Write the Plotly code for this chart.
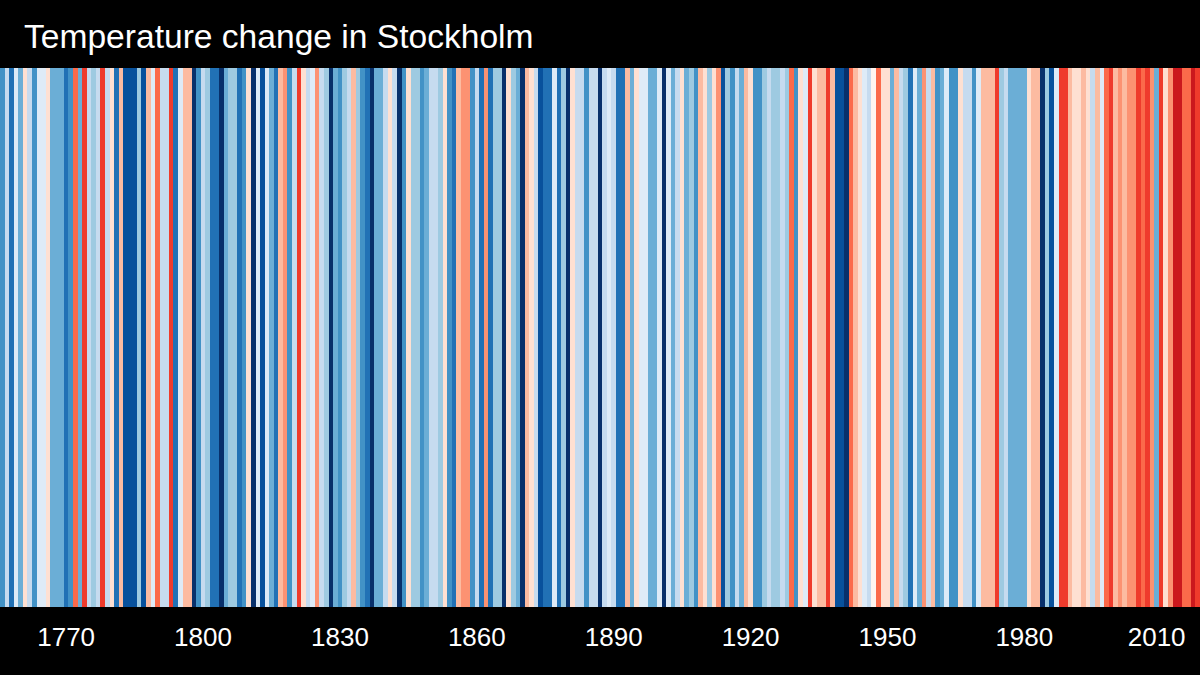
import plotly.graph_objects as go

first_year = 1756
# Warming-stripe class: negative = blue classes, positive = red classes
levels = [
 -5,-2,-6,-1,-4,2,-2,-5,-1,-1,2,-4,-4,-4,-6,-5,5,-4,6,-2,-3,-2,6,-2,2,-6,3,-7,-7,-7,-3,-7,3,-1,5,-2,-2,6,-6,-1,3,3,-8,
 -5,-2,-3,-6,-6,-8,-4,-3,-3,-6,-5,2,-8,-1,-7,-1,-4,-6,3,4,-5,-2,6,2,-2,-1,4,-2,-3,-8,-4,-5,-3,-2,3,-3,-5,-6,-8,-4,-4,-2,2,-2,
 -8,-5,2,-3,-3,-5,-4,-2,-2,-3,2,-5,-6,3,4,4,-5,-2,-6,4,-6,-3,-3,-8,2,-3,-4,-8,3,2,-2,-7,-6,-6,-1,-6,-3,-8,2,-2,-2,-5,-2,-2,
 -8,-2,-1,-2,-6,-6,3,-4,2,-1,-1,-4,-4,-1,-8,-1,-4,-2,2,-4,-3,-5,3,2,-3,2,4,-7,-3,-5,-2,-4,3,2,-5,-5,-3,-2,-3,-3,-2,-3,5,-5,
 2,-1,6,2,3,3,6,3,-7,-7,-8,5,3,2,-1,-2,1,5,2,2,-4,3,-2,-3,-6,-1,-4,4,-2,3,-5,-4,-1,-5,-5,2,-2,-2,-5,-1,3,3,3,6,
 -3,-2,-4,-4,-4,-4,2,3,3,-8,-3,-7,-1,6,6,3,2,2,3,2,-2,3,-1,5,6,3,4,3,4,4,6,5,6,4,-4,6,2,4,7,7,5,5,7,6,
]
years = list(range(first_year, first_year + len(levels)))

blues = ["#deebf7","#c6dbef","#9ecae1","#6baed6","#4292c6","#2171b5","#08519c","#08306b"]
reds = ["#fff5f0","#fee0d2","#fcbba1","#fc9272","#fb6a4a","#ef3b2c","#cb181d","#a50f15"]
palette = blues[::-1] + ["#ffffff"] + reds
scale = []
for i, c in enumerate(palette):
    scale += [[i / len(palette), c], [(i + 1) / len(palette), c]]

tick_years = [1770, 1800, 1830, 1860, 1890, 1920, 1950, 1980, 2009]
tick_labels = ["1770", "1800", "1830", "1860", "1890", "1920", "1950", "1980", "2010"]
title_text = "Temperature change in Stockholm"

fig = go.Figure(go.Heatmap(x=years, z=[levels], y=[0], colorscale=scale, zmin=-8.5, zmax=8.5,
                           showscale=False, xgap=0, hovertemplate="%{x}<extra></extra>"))
fig.update_layout(
    width=1200, height=675, margin=dict(l=0, r=0, t=68, b=68),
    paper_bgcolor="black", plot_bgcolor="black",
    font=dict(family="Liberation Sans", color="white"),
    title=dict(text=title_text, x=24/1200, xanchor="left", xref="paper", y=1-36/675, yanchor="middle",
               font=dict(size=33.6, color="white")),
    xaxis=dict(range=[first_year-0.5, first_year+len(levels)-0.5], tickmode="array", tickvals=tick_years,
               ticktext=tick_labels, ticks="", showgrid=False, zeroline=False,
               tickfont=dict(size=26, color="white"), ticklabelstandoff=12),
    yaxis=dict(visible=False),
)
fig.write_html("out.html", config={"displayModeBar": False}, post_script="document.body.style.margin='0';")
